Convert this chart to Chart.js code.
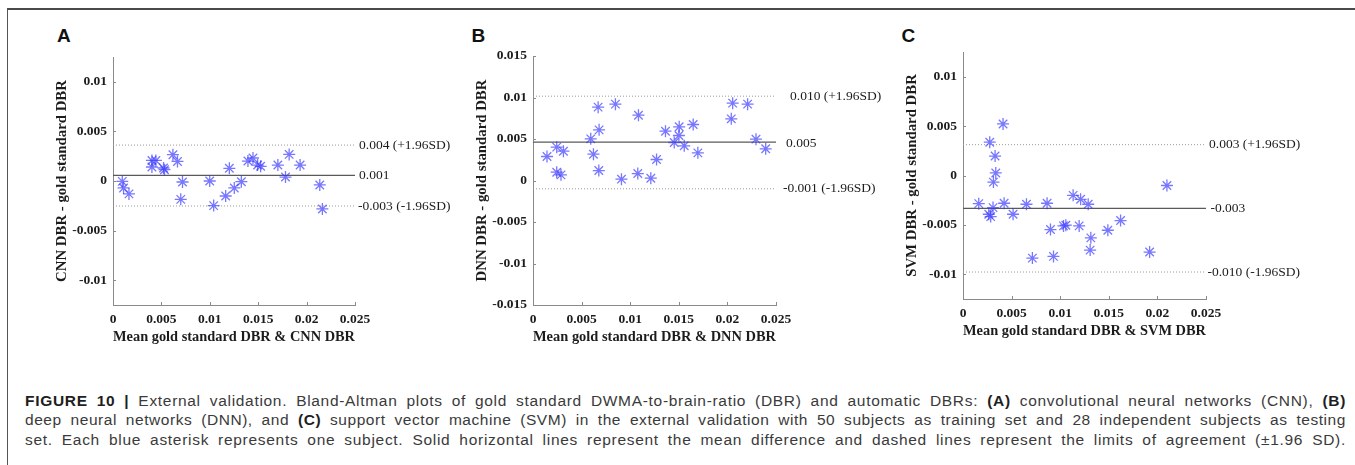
<!DOCTYPE html>
<html>
<head>
<meta charset="utf-8">
<script src="https://cdn.jsdelivr.net/npm/chart.js@4.4.0/dist/chart.umd.min.js"></script>
<style>
  html, body { margin:0; padding:0; background:#fff; }
  body { width:1355px; height:465px; position:relative; overflow:hidden; }
  .frame { position:absolute; left:7px; top:8px; width:1348px; height:457px;
           border-top:2px solid #4a4a4a; border-left:1px solid #555; box-sizing:border-box; }
  canvas { position:absolute; }
  .letter { position:absolute; font-family:"Liberation Sans", Arial, sans-serif; font-weight:bold;
            font-size:19px; line-height:19px; color:#111; }
  .cap { position:absolute; left:25px; white-space:nowrap; font-family:"Liberation Sans", Arial, sans-serif;
         font-size:15.5px; line-height:20px; color:#3a3a3a; }
  .cap b { color:#1e1e1e; }
</style>
</head>
<body>
<div class="frame"></div>
<div class="letter" style="left:57px;top:25.5px;">A</div>
<div class="letter" style="left:471.5px;top:25.5px;">B</div>
<div class="letter" style="left:901.5px;top:25.5px;">C</div>

<canvas id="cA" width="420" height="330" style="left:40px;top:20px;width:420px;height:330px;"></canvas>
<canvas id="cB" width="440" height="330" style="left:460px;top:20px;width:440px;height:330px;"></canvas>
<canvas id="cC" width="465" height="330" style="left:890px;top:14px;width:465px;height:330px;"></canvas>

<div class="cap" id="l1" style="top:390.5px;"><b>FIGURE 10 |</b> External validation. Bland-Altman plots of gold standard DWMA-to-brain-ratio (DBR) and automatic DBRs: <b>(A)</b> convolutional neural networks (CNN), <b>(B)</b></div>
<div class="cap" id="l2" style="top:410px;">deep neural networks (DNN), and <b>(C)</b> support vector machine (SVM) in the external validation with 50 subjects as training set and 28 independent subjects as testing</div>
<div class="cap" id="l3" style="top:429.5px;">set. Each blue asterisk represents one subject. Solid horizontal lines represent the mean difference and dashed lines represent the limits of agreement (±1.96 SD).</div>

<script>
// ---------------- DATA ----------------
const xTickVals   = [0, 0.005, 0.01, 0.015, 0.02, 0.025];
const xTickLabels = ['0', '0.005', '0.01', '0.015', '0.02', '0.025'];
const yTickValsAC   = [0.01, 0.005, 0, -0.005, -0.01];
const yTickLabelsAC = ['0.01', '0.005', '0', '-0.005', '-0.01'];
const yTickValsB    = [0.015, 0.01, 0.005, 0, -0.005, -0.01, -0.015];
const yTickLabelsB  = ['0.015', '0.01', '0.005', '0', '-0.005', '-0.01', '-0.015'];

// Panel A: CNN
const cnnMean = [0.00096, 0.00109, 0.00165, 0.00402, 0.00402, 0.00443, 0.00522, 0.00532, 0.00619, 0.00666,
                 0.00718, 0.00700, 0.00999, 0.01040, 0.01202, 0.01164, 0.01253, 0.01326, 0.01394, 0.01446,
                 0.01494, 0.01525, 0.01703, 0.01782, 0.01820, 0.01933, 0.02136, 0.02163];
const cnnDiff = [-0.00004, -0.00070, -0.00130, 0.00207, 0.00141, 0.00207, 0.00131, 0.00114, 0.00265, 0.00197,
                 -0.00010, -0.00185, 0.00000, -0.00248, 0.00128, -0.00151, -0.00070, -0.00007, 0.00201, 0.00232,
                 0.00161, 0.00148, 0.00161, 0.00040, 0.00268, 0.00161, -0.00040, -0.00282];
const cnnLines  = [0.00057, 0.00362, -0.00252];
const cnnLabels = ['0.001', '0.004 (+1.96SD)', '-0.003 (-1.96SD)'];

// Panel B: DNN
const dnnMean = [0.00144, 0.00244, 0.00244, 0.00288, 0.00313, 0.00594, 0.00622, 0.00670, 0.00680, 0.00677,
                 0.00848, 0.00910, 0.01085, 0.01078, 0.01212, 0.01271, 0.01363, 0.01453, 0.01504, 0.01501,
                 0.01556, 0.01648, 0.01696, 0.02040, 0.02054, 0.02208, 0.02294, 0.02394];
const dnnDiff = [0.00289, 0.00402, 0.00100, 0.00068, 0.00353, 0.00502, 0.00317, 0.00884, 0.00610, 0.00120,
                 0.00920, 0.00016, 0.00787, 0.00084, 0.00028, 0.00253, 0.00594, 0.00458, 0.00647, 0.00542,
                 0.00418, 0.00675, 0.00333, 0.00743, 0.00932, 0.00920, 0.00498, 0.00382];
const dnnLines  = [0.00462, 0.01016, -0.00100];
const dnnLabels = ['0.005', '0.010 (+1.96SD)', '-0.001 (-1.96SD)'];

// Panel C: SVM
const svmMean = [0.00162, 0.00265, 0.00285, 0.00275, 0.00309, 0.00330, 0.00337, 0.00313, 0.00412, 0.00423,
                 0.00515, 0.00653, 0.00714, 0.00865, 0.00900, 0.00931, 0.01034, 0.01058, 0.01133, 0.01210,
                 0.01288, 0.01195, 0.01315, 0.01308, 0.01490, 0.01621, 0.01920, 0.02098];
const svmDiff = [-0.00285, -0.00392, -0.00416, 0.00337, -0.00325, 0.00197, 0.00026, -0.00067, 0.00522, -0.00281,
                 -0.00392, -0.00291, -0.00836, -0.00281, -0.00547, -0.00819, -0.00510, -0.00503, -0.00201, -0.00241,
                 -0.00291, -0.00510, -0.00631, -0.00755, -0.00554, -0.00456, -0.00775, -0.00101];
const svmLines  = [-0.00332, 0.00312, -0.00977];
const svmLabels = ['-0.003', '0.003 (+1.96SD)', '-0.010 (-1.96SD)'];

const xTitles = ['Mean gold standard DBR & CNN DBR', 'Mean gold standard DBR & DNN DBR', 'Mean gold standard DBR & SVM DBR'];
const yTitles = ['CNN DBR - gold standard DBR', 'DNN DBR - gold standard DBR', 'SVM DBR - gold standard DBR'];

// ---------------- STYLE / LAYOUT ----------------
const SERIF = '"Liberation Serif", "Times New Roman", serif';
const TXT = '#1c1c1c';
const AXIS = '#8a8a8a';
const STAR = 'rgba(55,55,255,0.68)';

function makePanel(id, xs, ys, lines, labels, xTitle, yTitle, yTickVals, yTickLabels, layout) {
  const pts = xs.map((x, i) => ({x: x, y: ys[i]}));
  const lineData = v => [{x: xTickVals[0], y: v}, {x: xTickVals[xTickVals.length - 1], y: v}];

  const refLabels = {
    id: 'refLabels' + id,
    afterDraw(chart) {
      const {ctx, chartArea: a, scales: {x, y}} = chart;
      ctx.save();
      ctx.strokeStyle = AXIS; ctx.lineWidth = 1; ctx.beginPath();
      x.ticks.forEach(t => { const px = Math.round(x.getPixelForValue(t.value)) + 0.5;
        ctx.moveTo(px, a.bottom); ctx.lineTo(px, a.bottom - 3); });
      y.ticks.forEach(t => { const py = Math.round(y.getPixelForValue(t.value)) + 0.5;
        ctx.moveTo(a.left, py); ctx.lineTo(a.left + 3, py); });
      ctx.stroke();
      ctx.fillStyle = TXT;
      ctx.font = '13.5px ' + SERIF;
      ctx.textBaseline = 'middle';
      ctx.textAlign = 'left';
      lines.forEach((v, i) => {
        ctx.fillText(labels[i], a.right + layout.gaps[i], y.getPixelForValue(v) + layout.dy[i]);
      });
      ctx.restore();
    }
  };

  return new Chart(document.getElementById(id), {
    type: 'scatter',
    data: {
      datasets: [
        { data: pts, pointStyle: 'star', pointRadius: 6, borderWidth: 1.3,
          borderColor: STAR, backgroundColor: STAR },
        { data: lineData(lines[0]), showLine: true, pointRadius: 0, borderColor: '#5a5a5a', borderWidth: 1.2 },
        { data: lineData(lines[1]), showLine: true, pointRadius: 0, borderColor: '#9a9a9a', borderWidth: 1, borderDash: [1, 2] },
        { data: lineData(lines[2]), showLine: true, pointRadius: 0, borderColor: '#9a9a9a', borderWidth: 1, borderDash: [1, 2] }
      ]
    },
    options: {
      responsive: false, animation: false, events: [],
      layout: { padding: { top: layout.top, right: layout.right, bottom: 0, left: 0 } },
      plugins: { legend: { display: false }, tooltip: { enabled: false } },
      scales: {
        x: {
          type: 'linear', min: xTickVals[0], max: xTickVals[xTickVals.length - 1],
          afterBuildTicks: s => { s.ticks = xTickVals.map(v => ({value: v})); },
          afterFit: s => { s.height = 45; },
          ticks: { callback: v => xTickLabels[xTickVals.indexOf(v)], autoSkip: false, maxRotation: 0,
                   padding: 6, color: TXT, font: { family: SERIF, weight: 'bold', size: 13.5 } },
          grid: { display: true, drawOnChartArea: false, drawTicks: false },
          border: { display: true, color: AXIS, width: 1 },
          title: { display: true, text: xTitle, color: TXT, padding: { top: 0, bottom: 4 },
                   font: { family: SERIF, weight: 'bold', size: 14.8 } }
        },
        y: {
          type: 'linear', min: layout.yMin, max: layout.yMax,
          afterBuildTicks: s => { s.ticks = yTickVals.map(v => ({value: v})); },
          afterFit: s => { s.width = 73; },
          ticks: { callback: v => yTickLabels[yTickVals.indexOf(v)], autoSkip: false,
                   padding: 6, color: TXT, font: { family: SERIF, weight: 'bold', size: 13.5 } },
          grid: { display: true, drawOnChartArea: false, drawTicks: false },
          border: { display: true, color: AXIS, width: 1 },
          title: { display: true, text: yTitle, color: TXT, padding: { top: 12.8, bottom: 0 },
                   font: { family: SERIF, weight: 'bold', size: 14.8 } }
        }
      }
    },
    plugins: [refLabels]
  });
}

// justify each caption line to the reference width by widening word gaps
function fitCaption() {
  const target = 1321;
  ['l1', 'l2', 'l3'].forEach(id => {
    const el = document.getElementById(id);
    el.style.wordSpacing = '0px';
    el.style.letterSpacing = '0px';
    const w = el.getBoundingClientRect().width;
    const spaces = (el.textContent.match(/ /g) || []).length;
    let ws = (target - w) / spaces;
    if (ws > 4) {                       // share the surplus with slight tracking
      const extra = (ws - 4) * spaces;
      el.style.letterSpacing = (extra / el.textContent.length) + 'px';
      ws = 4;
    }
    el.style.wordSpacing = ws + 'px';
  });
}

function build() {
  fitCaption();
  makePanel('cA', cnnMean, cnnDiff, cnnLines, cnnLabels, xTitles[0], yTitles[0], yTickValsAC, yTickLabelsAC,
            { top: 37, right: 105, yMin: -0.0125, yMax: 0.0125, gaps: [4, 4, 3], dy: [0, 0, 0] });
  makePanel('cB', dnnMean, dnnDiff, dnnLines, dnnLabels, xTitles[1], yTitles[1], yTickValsB, yTickLabelsB,
            { top: 36, right: 124, yMin: -0.015, yMax: 0.015, gaps: [10, 14, 7], dy: [1.5, 0, 0] });
  makePanel('cC', svmMean, svmDiff, svmLines, svmLabels, xTitles[2], yTitles[2], yTickValsAC, yTickLabelsAC,
            { top: 38, right: 149, yMin: -0.0125, yMax: 0.0125, gaps: [4.5, 3, 1.5], dy: [0, 0, 0] });
}

if (document.fonts && document.fonts.ready) { document.fonts.ready.then(build); } else { build(); }
</script>
</body>
</html>
